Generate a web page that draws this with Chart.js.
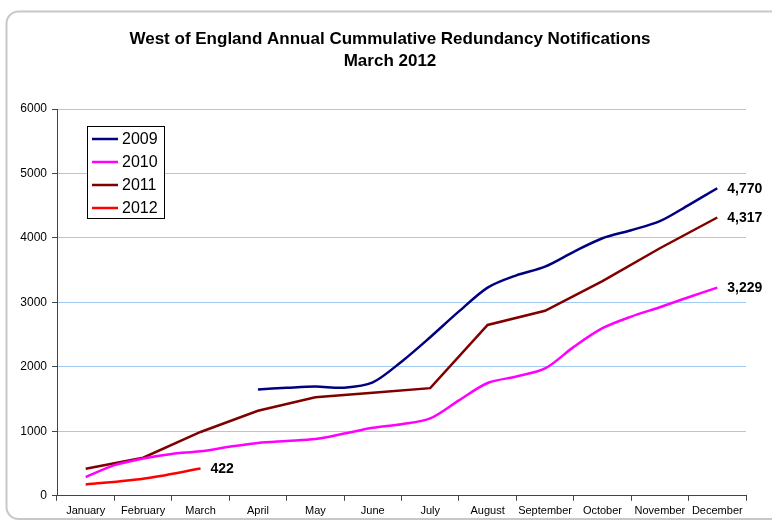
<!DOCTYPE html>
<html>
<head>
<meta charset="utf-8">
<script src="https://cdn.jsdelivr.net/npm/chart.js@4/dist/chart.umd.min.js"></script>
<style>
html, body { margin: 0; padding: 0; background: #fff; overflow: hidden; }
</style>
</head>
<body>
<canvas id="canvas" width="772" height="522"></canvas>
<script>
var months = ['January', 'February', 'March', 'April', 'May', 'June', 'July',
              'August', 'September', 'October', 'November', 'December'];
var years = ['2009', '2010', '2011', '2012'];
var colors = ['#000080', '#ff00ff', '#800000', '#ff0000'];
var titleLines = ['West of England Annual Cummulative Redundancy Notifications', 'March 2012'];

// 2009 readings every half month, starting in April
var v2009 = [1650, 1675, 1695, 1677, 1760, 2080, 2460, 2860, 3230, 3420, 3555,
             3785, 3995, 4120, 4260, 4510, 4770];
// 2010 readings every half month, starting in January
var v2010 = [290, 475, 580, 650, 690, 760, 820, 850, 880, 965, 1055, 1110, 1200,
             1480, 1750, 1850, 1975, 2310, 2600, 2780, 2925, 3080, 3229];
// 2011 and 2012 monthly
var v2011 = [420, 590, 990, 1320, 1530, 1600, 1670, 2650, 2870, 3330, 3840, 4317];
var v2012 = [175, 265, 422];

var FONT = "'Liberation Sans', Arial, sans-serif";

// month index + step -> point at the middle of the month slot
function toPoints(values, startMonth, step) {
    return values.map(function (v, i) {
        return { x: startMonth + i * step + 0.5, y: v };
    });
}

var series = [
    { data: toPoints(v2009, 3, 0.5), tension: 0.3 },
    { data: toPoints(v2010, 0, 0.5), tension: 0.3 },
    { data: toPoints(v2011, 0, 1), tension: 0 },
    { data: toPoints(v2012, 0, 1), tension: 0.3 }
];

var datasets = series.map(function (s, i) {
    return {
        label: years[i],
        data: s.data,
        borderColor: colors[i],
        backgroundColor: colors[i],
        borderWidth: 2.5,
        pointRadius: 0,
        tension: s.tension,
        fill: false,
        xAxisID: 'xv',
        yAxisID: 'y'
    };
});

var extras = {
    id: 'extras',
    beforeDraw: function (chart) {
        var ctx = chart.ctx;
        var x = 6.5, y = 11.5, w = 820, h = 507.5, r = 12;
        ctx.save();
        ctx.strokeStyle = '#c8c8c8';
        ctx.lineWidth = 2;
        ctx.beginPath();
        ctx.moveTo(x + w, y);
        ctx.lineTo(x + r, y);
        ctx.arcTo(x, y, x, y + r, r);
        ctx.lineTo(x, y + h - r);
        ctx.arcTo(x, y + h, x + r, y + h, r);
        ctx.lineTo(x + w, y + h);
        ctx.stroke();

        // title, centred a little right of the canvas middle as in the original
        ctx.fillStyle = '#000';
        ctx.font = 'bold 17px ' + FONT;
        ctx.textAlign = 'center';
        ctx.textBaseline = 'middle';
        titleLines.forEach(function (t, i) {
            ctx.fillText(t, 390, 39 + i * 22);
        });
        ctx.restore();
    },
    afterDatasetsDraw: function (chart) {
        var ctx = chart.ctx;
        var area = chart.chartArea;
        ctx.save();

        // value labels at the end of each line
        ctx.font = 'bold 14px ' + FONT;
        ctx.fillStyle = '#000';
        ctx.textAlign = 'left';
        ctx.textBaseline = 'middle';
        chart.data.datasets.forEach(function (ds, i) {
            var meta = chart.getDatasetMeta(i);
            var last = meta.data[meta.data.length - 1];
            var val = ds.data[ds.data.length - 1].y;
            ctx.fillText(val.toLocaleString('en-US'), last.x + 10, last.y + 1);
        });

        // legend box inside the plot
        var lx = area.left + 30, ly = area.top + 17;
        ctx.fillStyle = '#fff';
        ctx.fillRect(lx, ly, 77, 92);
        ctx.strokeStyle = '#000';
        ctx.lineWidth = 1;
        ctx.strokeRect(lx + 0.5, ly + 0.5, 77, 92);
        ctx.font = '16px ' + FONT;
        chart.data.datasets.forEach(function (ds, i) {
            var yy = ly + 13 + i * 23;
            ctx.strokeStyle = ds.borderColor;
            ctx.lineWidth = 2.5;
            ctx.beginPath();
            ctx.moveTo(lx + 5, yy);
            ctx.lineTo(lx + 31, yy);
            ctx.stroke();
            ctx.fillStyle = '#000';
            ctx.fillText(ds.label, lx + 35, yy + 1);
        });
        ctx.restore();
    }
};

var canvas = document.getElementById('canvas');
var ctx = canvas.getContext('2d');
var config = {
    type: 'line',
    data: {
        labels: months,
        datasets: datasets
    },
    options: {
        responsive: false,
        animation: false,
        devicePixelRatio: 1,
        layout: { padding: { left: 0, right: 26, top: 109, bottom: 0 } },
        plugins: {
            legend: { display: false },
            tooltip: { enabled: false },
            title: { display: false }
        },
        scales: {
            x: {
                type: 'category',
                labels: months,
                offset: true,
                grid: {
                    offset: true,
                    drawOnChartArea: false,
                    drawTicks: true,
                    tickLength: 5,
                    tickColor: '#444'
                },
                border: { color: '#444', width: 1 },
                ticks: {
                    color: '#000',
                    font: { family: FONT, size: 11 },
                    padding: 4,
                    maxRotation: 0,
                    autoSkip: false
                }
            },
            xv: {
                type: 'linear',
                min: 0,
                max: 12,
                display: false
            },
            y: {
                min: 0,
                max: 6000,
                ticks: {
                    stepSize: 1000,
                    color: '#000',
                    font: { family: FONT, size: 12 },
                    padding: 5,
                    callback: function (v) { return String(v); }
                },
                grid: {
                    color: function (c) { return c.tick && c.tick.value === 0 ? 'rgba(0,0,0,0)' : '#9fcbf5'; },
                    tickColor: '#444',
                    tickLength: 5
                },
                border: { color: '#444', width: 1 },
                afterFit: function (scale) { scale.width = 57; }
            }
        }
    },
    plugins: [extras]
};

var chart = new Chart(ctx, config);
</script>
</body>
</html>
